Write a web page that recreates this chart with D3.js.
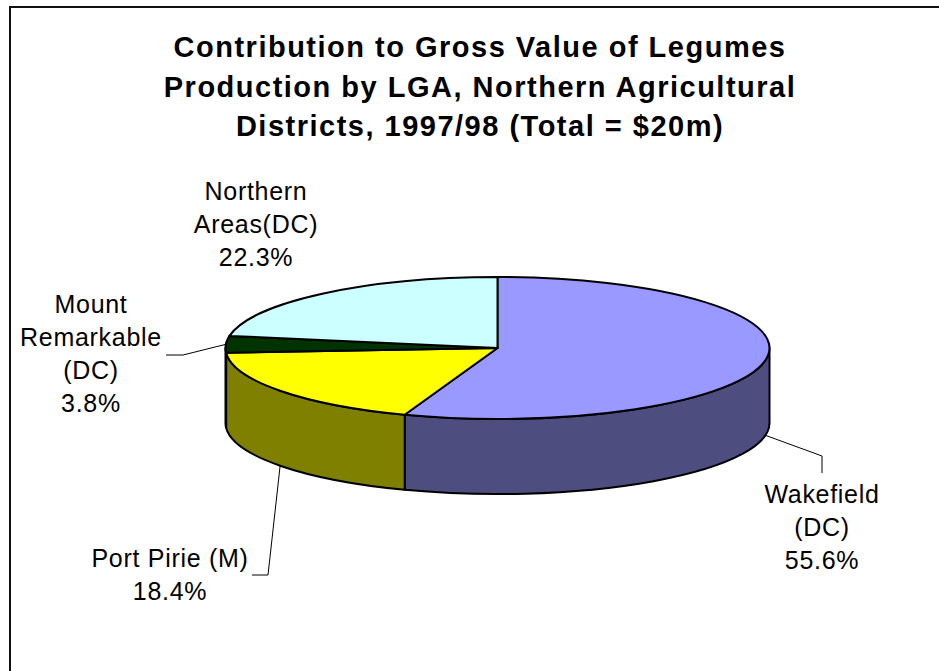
<!DOCTYPE html>
<html>
<head>
<meta charset="utf-8">
<script src="https://cdn.jsdelivr.net/npm/d3@7"></script>
<style>
  body { margin: 0; background: #fff; }
  svg { display: block; }
  text { font-family: "Liberation Sans", Arial, sans-serif; fill: #000; }
</style>
</head>
<body>
<svg width="939" height="671"></svg>
<script>
// data
var names = ["Wakefield (DC)", "Port Pirie (M)", "Mount Remarkable (DC)", "Northern Areas(DC)"];
var values = [55.6, 18.4, 3.8, 22.3];
var topColors = ["#9999FF", "#FFFF00", "#003300", "#CCFFFF"];
var sideColors = ["#4D4D80", "#808000", "#001A00", "#668080"];
var labelLines = [["Wakefield", "(DC)"], ["Port Pirie (M)"], ["Mount", "Remarkable", "(DC)"], ["Northern", "Areas(DC)"]];
var titleLines = ["Contribution to Gross Value of Legumes",
                  "Production by LGA, Northern Agricultural",
                  "Districts, 1997/98 (Total = $20m)"];

var svg = d3.select("svg");

// frame (only top and left edges visible)
svg.append("path")
    .attr("d", "M10,671 L10,7 L939,7")
    .attr("fill", "none")
    .attr("stroke", "#111")
    .attr("stroke-width", 2);

// title
svg.append("g").selectAll("text")
    .data(titleLines)
    .enter().append("text")
    .attr("x", 480)
    .attr("y", function (d, i) { return 57 + i * 39.5; })
    .attr("text-anchor", "middle")
    .style("font-size", "29px")
    .style("font-weight", "bold")
    .style("letter-spacing", "1.5px")
    .text(function (d) { return d; });

// pie geometry
var cx = 497.5, cy = 348, rx = 272, ry = 71, depth = 75;

var pie = d3.pie().sort(null).value(function (d) { return d; });
var arcs = pie(values);

function pt(a, dy) {
    return [cx + rx * Math.sin(a), cy - ry * Math.cos(a) + (dy || 0)];
}
function fmt(p) { return p[0].toFixed(2) + "," + p[1].toFixed(2); }

// side walls (front half only: PI/2 .. 3PI/2)
var g = svg.append("g");
arcs.forEach(function (d, i) {
    var a0 = Math.max(d.startAngle, Math.PI / 2),
        a1 = Math.min(d.endAngle, 3 * Math.PI / 2);
    if (a1 <= a0) return;
    var p0 = pt(a0), p1 = pt(a1), q1 = pt(a1, depth), q0 = pt(a0, depth);
    var path = "M" + fmt(p0) +
        "A" + rx + "," + ry + " 0 0 1 " + fmt(p1) +
        "L" + fmt(q1) +
        "A" + rx + "," + ry + " 0 0 0 " + fmt(q0) + "Z";
    g.append("path")
        .attr("d", path)
        .attr("fill", sideColors[i])
        .attr("stroke", "#000")
        .attr("stroke-width", 2)
        .attr("stroke-linejoin", "round");
});

// top faces
arcs.forEach(function (d, i) {
    var p0 = pt(d.startAngle), p1 = pt(d.endAngle);
    var large = (d.endAngle - d.startAngle) > Math.PI ? 1 : 0;
    var path = "M" + cx + "," + cy + "L" + fmt(p0) +
        "A" + rx + "," + ry + " 0 " + large + " 1 " + fmt(p1) + "Z";
    g.append("path")
        .attr("d", path)
        .attr("fill", topColors[i])
        .attr("stroke", "#000")
        .attr("stroke-width", 2)
        .attr("stroke-linejoin", "round");
});

// labels
var labelPos = [
    { x: 822, y: 503, elbow: [822, 456], end: [822, 473] },
    { x: 170, y: 567, elbow: [268, 575], end: [252, 575] },
    { x: 91, y: 313, elbow: [183, 355], end: [166, 355] },
    { x: 256, y: 200, elbow: null, end: null }
];
var lineH = 33;

arcs.forEach(function (d, i) {
    var lp = labelPos[i];
    var mid = (d.startAngle + d.endAngle) / 2;
    if (lp.elbow) {
        var front = mid > Math.PI / 2 && mid < 3 * Math.PI / 2;
        var a = pt(mid, front ? depth : 0);
        svg.append("polyline")
            .attr("points", [a, lp.elbow, lp.end].map(fmt).join(" "))
            .attr("fill", "none")
            .attr("stroke", "#000")
            .attr("stroke-width", 1);
    }
    var lines = labelLines[i].concat([d3.format(".1f")(values[i]) + "%"]);
    var t = svg.append("text")
        .attr("text-anchor", "middle")
        .style("font-size", "25px")
        .style("letter-spacing", "0.7px");
    lines.forEach(function (s, k) {
        t.append("tspan")
            .attr("x", lp.x)
            .attr("y", lp.y + k * lineH)
            .text(s);
    });
});
</script>
</body>
</html>
